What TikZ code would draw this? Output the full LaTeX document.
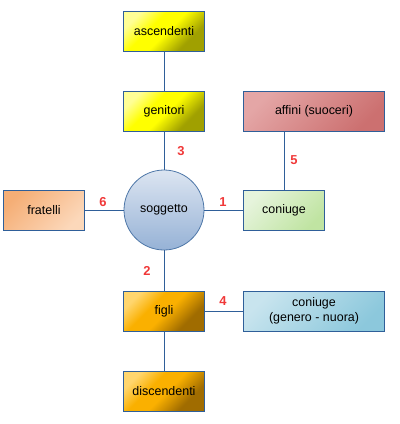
\documentclass[tikz,border=0pt]{standalone}
\usepackage{fontspec}
\setmainfont{Liberation Sans}
\definecolor{lineblue}{HTML}{2F5F99}
\definecolor{numred}{HTML}{F03838}
\definecolor{yl1}{RGB}{255,255,150}
\definecolor{yl2}{RGB}{255,255,0}
\definecolor{yl3}{RGB}{160,160,0}
\definecolor{or1}{RGB}{255,214,110}
\definecolor{or2}{RGB}{250,176,0}
\definecolor{or3}{RGB}{160,108,0}
\pgfdeclareverticalshading{yelsh}{100bp}{color(0bp)=(yl3); color(30bp)=(yl3); color(48bp)=(yl2); color(60bp)=(yl2); color(75bp)=(yl1); color(100bp)=(yl1)}
\pgfdeclareverticalshading{orash}{100bp}{color(0bp)=(or3); color(30bp)=(or3); color(48bp)=(or2); color(60bp)=(or2); color(75bp)=(or1); color(100bp)=(or1)}
\begin{document}
\begin{tikzpicture}[x=1bp,y=-1bp,
  box/.style={draw=lineblue, line width=1bp, minimum width=80bp, minimum height=40bp, inner sep=0pt, font=\fontsize{12.5}{15}\selectfont, align=center},
  widebox/.style={box, minimum width=140bp},
  yel/.style={shading=yelsh, shading angle=45},
  ora/.style={shading=orash, shading angle=45},
  num/.style={text=numred, font=\fontsize{13}{15}\selectfont\bfseries},
  conn/.style={draw=lineblue, line width=1bp}]
\useasboundingbox (0,0) rectangle (400,424);
\node[box, yel] (asc) at (164,31) {ascendenti};
\node[box, yel] (gen) at (164,111) {genitori};
\node[circle, draw=lineblue!85, line width=0.8bp, minimum size=80bp, inner sep=0pt, top color={rgb,255:red,220;green,229;blue,241}, bottom color={rgb,255:red,150;green,178;blue,214}, font=\fontsize{12.5}{15}\selectfont] (sog) at (164,210) {soggetto};
\node[box, left color={rgb,255:red,245;green,174;blue,118}, right color={rgb,255:red,252;green,216;blue,186}, shading angle=45] (fra) at (44,210) {fratelli};
\node[box, left color={rgb,255:red,230;green,244;blue,220}, right color={rgb,255:red,192;green,228;blue,162}, shading angle=45] (con) at (284,210) {coniuge};
\node[widebox, left color={rgb,255:red,228;green,166;blue,166}, right color={rgb,255:red,204;green,112;blue,112}, shading angle=45] (aff) at (314,111) {affini (suoceri)};
\node[box, ora] (fig) at (164,311) {figli};
\node[widebox, left color={rgb,255:red,200;green,228;blue,238}, right color={rgb,255:red,140;green,200;blue,220}, shading angle=45] (cgn) at (314,311) {coniuge\\(genero - nuora)};
\node[box, ora] (dis) at (164,391) {discendenti};
\draw[conn] (asc) -- (gen);
\draw[conn] (gen) -- (sog);
\draw[conn] (sog) -- (fig);
\draw[conn] (fig) -- (dis);
\draw[conn] (sog) -- (fra);
\draw[conn] (sog) -- (con);
\draw[conn] (con.north) -- (con.north |- aff.south);
\draw[conn] (fig) -- (cgn);
\node[num] (n3) at (181,151) {3};
\node[num] (n5) at (294,160) {5};
\node[num] (n6) at (103,202) {6};
\node[num] (n1) at (223,202) {1};
\node[num] (n2) at (147,271) {2};
\node[num] (n4) at (223,301) {4};
\end{tikzpicture}
\end{document}
